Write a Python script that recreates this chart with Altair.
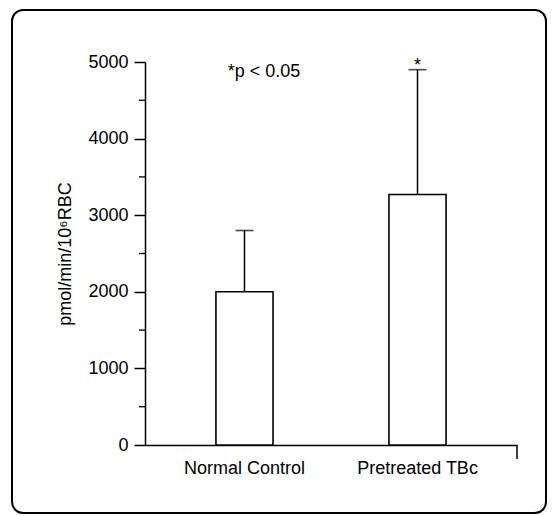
import altair as alt
import pandas as pd

groups = ["Normal Control", "Pretreated TBc"]
means = [2000, 3270]
errors = [800, 1630]
sig_marks = ["", "*"]
y_ticks = [0, 1000, 2000, 3000, 4000, 5000]
minor_ticks = [500, 1500, 2500, 3500, 4500]
note = "*p < 0.05"

FONT = "Liberation Sans"
FS = 18

df = pd.DataFrame({
    "group": groups,
    "mean": means,
    "err": errors,
    "top": [m + e for m, e in zip(means, errors)],
    "sig": sig_marks,
})

x_enc = alt.X(
    "group:N",
    sort=groups,
    scale=alt.Scale(paddingInner=0.67, paddingOuter=0.41),
    axis=alt.Axis(
        title=None, labelAngle=0, ticks=False, tickSize=0, labelPadding=14,
        labelFontSize=FS, labelFont=FONT, labelColor="black",
        domainColor="black", domainWidth=1.5,
    ),
)
y_scale = alt.Scale(domain=[0, 5000], nice=False)

base = alt.Chart(df)

bars = base.mark_bar(fill="white", stroke="black", strokeWidth=1.6).encode(
    x=x_enc,
    y=alt.Y(
        "mean:Q",
        scale=y_scale,
        axis=alt.Axis(
            values=y_ticks, format="d", grid=False, tickSize=11, tickColor="black", tickWidth=1.5,
            domainColor="black", domainWidth=1.5, labelPadding=6,
            labelFontSize=FS, labelFont=FONT, labelColor="black",
            title="pmol/min/10⁶RBC", titleFontSize=18, titleFont=FONT,
            titleFontWeight="normal", titleColor="black", titleX=-80,
            titleAngle=-90, titleBaseline="middle", titleAlign="center",
        ),
    ),
)

err_rule = base.mark_rule(color="black", strokeWidth=1.5).encode(
    x=alt.X("group:N", sort=groups),
    y=alt.Y("mean:Q", scale=y_scale),
    y2="top:Q",
)

caps = base.mark_tick(color="black", size=18, thickness=1.6).encode(
    x=alt.X("group:N", sort=groups),
    y=alt.Y("top:Q", scale=y_scale),
)

stars = base.mark_text(fontSize=FS, font=FONT, color="black", baseline="alphabetic", dy=1).encode(
    x=alt.X("group:N", sort=groups),
    y=alt.Y("top:Q", scale=y_scale),
    text="sig:N",
)

minor = alt.Chart(pd.DataFrame({"v": minor_ticks})).mark_rule(color="black", strokeWidth=1.3).encode(
    y=alt.Y("v:Q", scale=y_scale),
    x=alt.value(-6),
    x2=alt.value(0),
)

one = pd.DataFrame({"t": [note], "y": [4870]})
note_text = alt.Chart(one).mark_text(
    fontSize=FS, font=FONT, color="black", baseline="middle", align="center"
).encode(
    x=alt.value(119),
    y=alt.Y("y:Q", scale=y_scale),
    text="t:N",
)

end_tick = alt.Chart(one).mark_rule(color="black", strokeWidth=1.5).encode(
    x=alt.value(372), y=alt.value(383), y2=alt.value(397)
)

frame = alt.Chart(one).mark_rect(
    fill=None, stroke="black", strokeWidth=2, cornerRadius=11
).encode(
    x=alt.value(-133), x2=alt.value(401), y=alt.value(-52), y2=alt.value(451)
)

chart = alt.layer(
    frame, bars, err_rule, caps, stars, minor, note_text, end_tick
).properties(
    width=372,
    height=383,
    background="white",
    autosize=alt.AutoSizeParams(type="none"),
    padding={"left": 137, "top": 54, "right": 32, "bottom": 70},
).configure_view(stroke=None)

chart.save("out.html", embed_options={"renderer": "svg", "actions": False})
